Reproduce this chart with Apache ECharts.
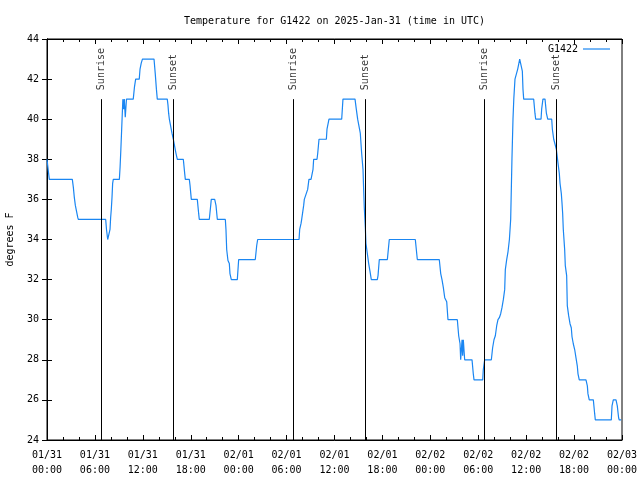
<!DOCTYPE html>
<html>
<head>
<meta charset="utf-8">
<script src="https://cdn.jsdelivr.net/npm/echarts@6/dist/echarts.min.js"></script>
<style>html,body{margin:0;padding:0;background:#fff}#c{width:640px;height:480px}</style>
</head>
<body>
<div id="c"></div>
<script>
// hours since 2025-01-31 00:00 UTC
const hours = [0,0.04,0.2,0.29,3.17,3.3,3.42,3.55,3.7,3.85,3.92,7.35,7.45,7.6,7.8,7.89,7.97,8.05,8.14,8.22,8.3,
9.06,9.15,9.25,9.35,9.5,9.55,9.62,9.68,9.8,9.95,10.8,10.95,11.1,11.55,11.65,11.8,11.95,13.4,13.55,13.7,13.81,
15.06,15.15,15.23,15.32,15.56,15.65,15.82,16.07,16.15,16.32,17.07,17.24,17.32,17.82,17.91,18.07,18.82,18.99,19.07,
20.32,20.5,20.57,21.0,21.16,21.33,22.33,22.41,22.5,22.66,22.83,22.91,23.08,23.83,24.0,26.08,26.26,26.38,
31.56,31.64,31.81,31.89,32.14,32.22,32.47,32.64,32.8,33.06,33.31,33.39,33.81,33.9,34.06,34.98,35.06,35.31,36.9,37.06,38.57,38.73,38.9,39.23,39.4,39.57,39.65,39.73,39.86,39.94,40.11,40.28,40.45,40.61,
41.36,41.45,41.61,42.62,42.86,46.12,46.37,49.12,49.3,49.46,49.63,49.8,50.05,50.21,51.38,51.55,51.72,51.8,51.97,52.05,52.13,52.3,53.22,53.38,53.47,54.56,54.63,54.8,55.64,55.8,55.97,56.14,56.31,56.47,56.64,56.81,56.97,57.14,57.31,57.39,57.56,57.73,57.9,58.06,58.14,58.22,58.35,58.45,58.6,58.77,58.94,59.19,59.44,59.52,59.6,59.69,60.94,61.1,61.19,61.86,61.94,62.1,62.36,62.53,62.7,63.2,63.28,63.45,63.7,63.78,63.99,64.15,64.24,64.4,64.49,64.57,64.65,64.82,64.9,65.07,65.15,65.32,65.49,65.65,65.74,65.9,66.08,66.24,66.4,66.49,66.65,67.49,67.66,67.74,67.9,68.41,68.58,68.66,70.66,70.75,70.91,71.25,71.41,71.58,71.66,71.9];
const temps = [38,38,37.3,37,37,36.6,36.1,35.7,35.4,35.1,35,35,34.5,34,34,34.5,35.1,35.5,36.1,36.8,37,
37,37.6,38.5,39.5,41,41,40.5,41,40.1,41,41,41.6,42,42,42.5,42.8,43,43,42.3,41.5,41,
41,40.7,40.3,40,40,39.3,39,39,38.3,38,38,37.3,37,37,36.7,36,36,35.3,35,
35,35.7,36,36,35.7,35,35,34.5,33.5,32.95,32.8,32.3,32,32,33,33,33.7,34,
34,34.5,34.8,35,35.7,36,36,36.5,37,37,37.5,38,38,38.3,39,39,39.5,40,40,41,41,40.5,40,39.3,38.3,37.5,36.5,35.6,34.6,33.8,33.3,32.8,32.4,32,
32,32.2,33,33,34,34,33,33,32.3,32,31.6,31.1,30.9,30,30,29.2,28.8,28,29,28.2,29,28,28,27.3,27,27,27.5,28,28,28.6,29,29.2,29.7,30,30.1,30.3,30.6,31,31.5,32.5,33,33.4,34,35,36.5,38,40,41,42,42,42.5,43,43,42.4,41.5,41,41,40.3,40,40,40.5,41,41,40.3,40,40,39.5,39,39,38.5,37.8,37.3,36.8,36.3,35.8,35.3,34.5,33.5,32.7,32.2,30.7,30.2,29.8,29.6,29.15,28.8,28.5,28.1,27.7,27.3,27,27,26.7,26.3,26,26,25.3,25,25,25.7,26,26,25.7,25.1,25,25];

const sunTimes = [6.8, 15.82, 30.85, 39.86, 54.77, 63.8];
const sunLabels = ['Sunrise','Sunset','Sunrise','Sunset','Sunrise','Sunset'];
const xTickLabels = ['01/31\n00:00','01/31\n06:00','01/31\n12:00','01/31\n18:00','02/01\n00:00','02/01\n06:00','02/01\n12:00','02/01\n18:00','02/02\n00:00','02/02\n06:00','02/02\n12:00','02/02\n18:00','02/03\n00:00'];

const FONT = 'DejaVu Sans Mono';
const LINE = '#1a86f2';
const chart = echarts.init(document.getElementById('c'), null, {renderer:'canvas'});
const axisCommon = {
  axisLine:{show:true, lineStyle:{color:'#000', width:1}},
  splitLine:{show:false}
};
chart.setOption({
  animation:false,
  backgroundColor:'#fff',
  title:{text:'Temperature for G1422 on 2025-Jan-31 (time in UTC)', left:184, top:16, padding:0,
    textStyle:{fontFamily:FONT, fontSize:10, fontWeight:'normal', color:'#000'}},
  legend:{data:[{name:'G1422', icon:'rect'}], right:30, top:44, padding:0, itemWidth:27, itemHeight:1.2,
    align:'right', itemStyle:{color:LINE},
    textStyle:{fontFamily:FONT, fontSize:10, color:'#000'}},
  grid:{left:47, right:18, top:39, bottom:40, show:true, borderColor:'#000', borderWidth:1,
    containLabel:false, outerBoundsMode:'none'},
  xAxis:[
    Object.assign({type:'value', min:0, max:72, interval:6, position:'bottom',
      axisTick:{show:true, inside:true, length:5, lineStyle:{color:'#000'}},
      minorTick:{show:true, splitNumber:3, length:3, lineStyle:{color:'#000'}},
      axisLabel:{formatter:v=>xTickLabels[Math.round(v/6)], fontFamily:FONT, fontSize:10, color:'#000', lineHeight:15, margin:8}
    }, axisCommon),
    Object.assign({type:'value', min:0, max:72, interval:6, position:'top',
      axisTick:{show:true, inside:true, length:5, lineStyle:{color:'#000'}},
      minorTick:{show:true, splitNumber:3, length:3, lineStyle:{color:'#000'}},
      axisLabel:{show:false}
    }, axisCommon)
  ],
  yAxis:[
    Object.assign({type:'value', min:24, max:44, interval:2, position:'left',
      name:'degrees F', nameLocation:'middle', nameGap:32, nameRotate:90,
      nameTextStyle:{fontFamily:FONT, fontSize:10, color:'#000'},
      axisTick:{show:true, inside:true, length:5, lineStyle:{color:'#000'}},
      axisLabel:{fontFamily:FONT, fontSize:10, color:'#000', margin:8}
    }, axisCommon),
    Object.assign({type:'value', min:24, max:44, interval:2, position:'right',
      axisTick:{show:true, inside:true, length:5, lineStyle:{color:'#000'}},
      axisLabel:{show:false}
    }, axisCommon)
  ],
  series:[
    {name:'G1422', type:'line', data:hours.map((h,i)=>[h,temps[i]]), symbol:'none', showSymbol:false,
      color:LINE, lineStyle:{width:1.2, color:LINE}, z:3},
    {name:'sun', type:'scatter', data:sunTimes.map(t=>[t,41]), symbolSize:0, z:2, silent:true,
      label:{show:true, formatter:p=>sunLabels[p.dataIndex], position:'top', distance:7, rotate:90,
        align:'left', verticalAlign:'middle', offset:[2,0], fontFamily:FONT, fontSize:10, color:'#000'},
      markLine:{silent:true, symbol:['none','none'], label:{show:false}, animation:false,
        lineStyle:{color:'#000', width:1, type:'solid'},
        data:sunTimes.map(t=>[{coord:[t,24]},{coord:[t,41]}])}
    }
  ]
});
</script>
</body>
</html>
